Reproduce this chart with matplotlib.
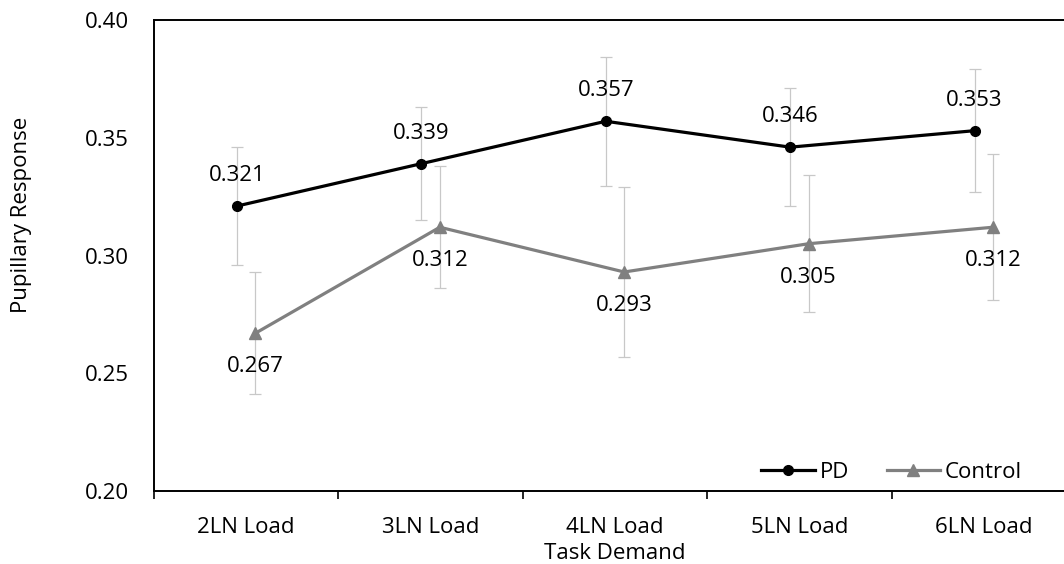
import matplotlib.pyplot as plt
from matplotlib.ticker import FixedLocator, NullFormatter

plt.rcParams["font.family"] = ["Open Sans", "DejaVu Sans"]

CATEGORIES = ["2LN Load", "3LN Load", "4LN Load", "5LN Load", "6LN Load"]
PD_MEAN = [0.321, 0.339, 0.357, 0.346, 0.353]
PD_ERR = [0.025, 0.024, 0.0275, 0.025, 0.026]
CONTROL_MEAN = [0.267, 0.312, 0.293, 0.305, 0.312]
CONTROL_ERR = [0.026, 0.026, 0.036, 0.029, 0.031]
Y_TICKS = [0.20, 0.25, 0.30, 0.35, 0.40]

FS = 16


def main():
    fig = plt.figure(figsize=(10.64, 5.64), dpi=100)
    ax = fig.add_axes([154 / 1064, 1 - 491 / 564, 922 / 1064, 471 / 564])

    x = list(range(len(CATEGORIES)))
    x_pd = [i - 0.05 for i in x]
    x_ctrl = [i + 0.05 for i in x]

    err_style = dict(fmt="none", ecolor="#c8c8c8", elinewidth=0.9,
                     capsize=4.5, capthick=0.9, zorder=1)
    ax.errorbar(x_pd, PD_MEAN, yerr=PD_ERR, **err_style)
    ax.errorbar(x_ctrl, CONTROL_MEAN, yerr=CONTROL_ERR, **err_style)

    ax.plot(x_pd, PD_MEAN, color="black", linewidth=2.3, marker="o",
            markersize=7, label="PD", zorder=3)
    ax.plot(x_ctrl, CONTROL_MEAN, color="#808080", linewidth=2.3, marker="^",
            markersize=8, label="Control", zorder=2)

    for xi, v in zip(x_pd, PD_MEAN):
        ax.annotate(f"{v:.3f}", (xi, v), xytext=(0, 22), textcoords="offset points",
                    ha="center", va="center", fontsize=FS)
    for xi, v in zip(x_ctrl, CONTROL_MEAN):
        ax.annotate(f"{v:.3f}", (xi, v), xytext=(0, -24), textcoords="offset points",
                    ha="center", va="center", fontsize=FS)

    ax.set_xlim(-0.5, len(CATEGORIES) - 0.5)
    ax.set_ylim(0.20, 0.40)
    ax.set_yticks(Y_TICKS)
    ax.set_yticklabels([f"{t:.2f}" for t in Y_TICKS])
    ax.set_xticks(x)
    ax.set_xticklabels(CATEGORIES)
    ax.xaxis.set_minor_locator(FixedLocator([i + 0.5 for i in range(-1, len(CATEGORIES))]))
    ax.xaxis.set_minor_formatter(NullFormatter())
    ax.tick_params(axis="x", which="major", length=0, pad=19, labelsize=FS)
    ax.tick_params(axis="x", which="minor", length=6, width=1.2, direction="out")
    ax.tick_params(axis="y", length=0, pad=18, labelsize=FS)

    for spine in ax.spines.values():
        spine.set_linewidth(1.4)
        spine.set_color("black")

    ax.set_xlabel("Task Demand", fontsize=FS, labelpad=3)
    ax.set_ylabel("Pupillary Response", fontsize=FS)
    ax.yaxis.set_label_coords(-0.132, 0.586)

    ax.legend(loc="center right", bbox_to_anchor=(0.9415, 0.040), ncol=2,
              frameon=False, fontsize=FS, handlelength=2.4, handletextpad=0.22,
              columnspacing=1.7, borderaxespad=0, borderpad=0)

    fig.savefig("out.png", dpi=100)
    plt.close(fig)


if __name__ == "__main__":
    main()
